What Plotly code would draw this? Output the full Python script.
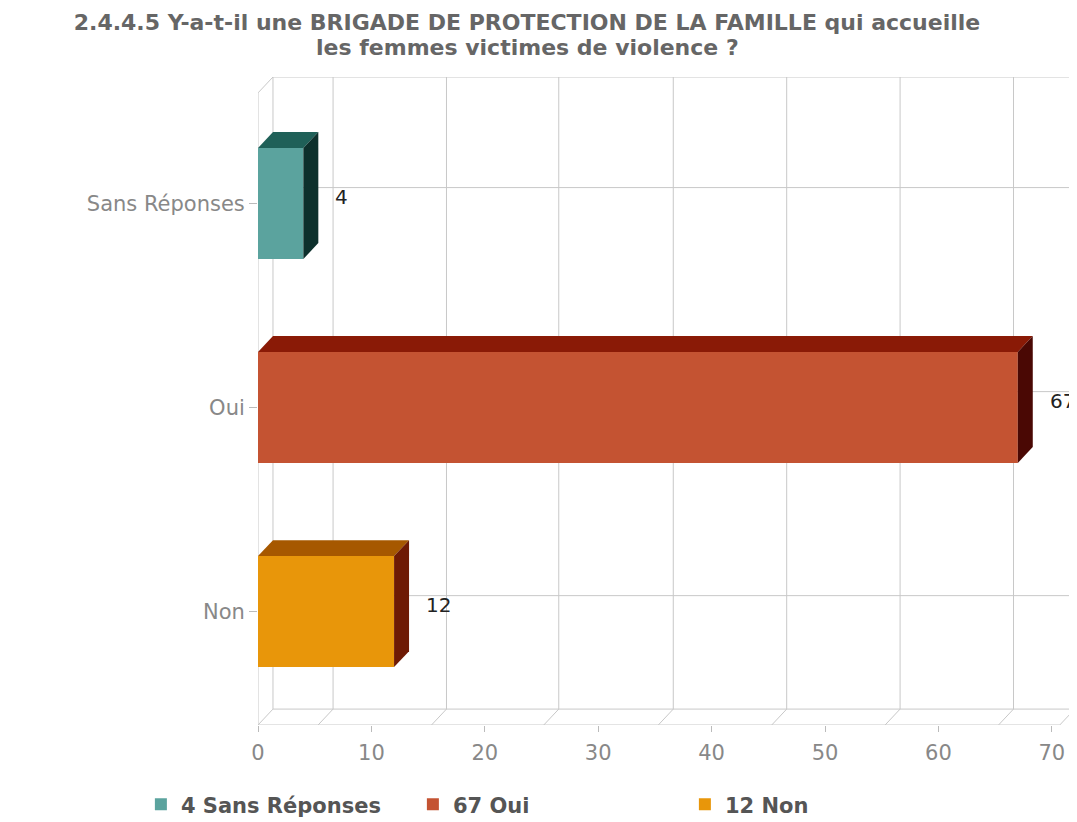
import plotly.graph_objects as go

# data
categories = ["Sans Réponses", "Oui", "Non"]
values = [4, 67, 12]
positions = [2, 1, 0]
legend_names = ["4 Sans Réponses", "67 Oui", "12 Non"]
front_colors = ["#5BA39E", "#C45332", "#E8960A"]
top_colors = ["#1F6058", "#8A1A06", "#A65800"]
side_colors = ["#0D302C", "#4A0804", "#6E1A04"]
x_ticks = [0, 10, 20, 30, 40, 50, 60, 70]
grid_vals = [5.3, 15.3, 25.2, 35.3, 45.3, 55.3, 65.3]

# 3d geometry (axis units)
X_MAX = 72.22
Y_MIN, Y_MAX = -0.556, 2.62
DX, DY = 1.32, 0.078
HALF = 0.272
FLOOR_END = 70.7
GRID = "#c8c8c8"
FONT = 'DejaVu Sans'

fig = go.Figure()

# front faces
for cat, v, p, name, c in zip(categories, values, positions, legend_names, front_colors):
    fig.add_trace(go.Bar(
        x=[v], y=[p], orientation='h', width=2 * HALF, base=0,
        marker=dict(color=c, line=dict(width=0)),
        name=name, hovertemplate=cat + ': %{x}<extra></extra>'
    ))

# top and side faces
for v, p, ct, cs in zip(values, positions, top_colors, side_colors):
    fig.add_trace(go.Scatter(
        x=[0, v, v + DX, DX, 0], y=[p + HALF, p + HALF, p + HALF + DY, p + HALF + DY, p + HALF],
        fill='toself', fillcolor=ct, mode='lines', line=dict(width=0),
        showlegend=False, hoverinfo='skip'
    ))
    fig.add_trace(go.Scatter(
        x=[v, v + DX, v + DX, v, v], y=[p - HALF, p - HALF + DY, p + HALF + DY, p + HALF, p - HALF],
        fill='toself', fillcolor=cs, mode='lines', line=dict(width=0),
        showlegend=False, hoverinfo='skip'
    ))

# walls and grid
shapes = []
def seg(x0, y0, x1, y1):
    shapes.append(dict(type='line', x0=x0, y0=y0, x1=x1, y1=y1, xref='x', yref='y',
                       line=dict(color=GRID, width=1), layer='below'))

seg(DX, Y_MIN + DY, DX, Y_MAX)
seg(DX, Y_MAX, X_MAX, Y_MAX)
seg(0, Y_MIN, 0, Y_MAX - DY)
seg(0, Y_MAX - DY, DX, Y_MAX)
seg(0, Y_MIN, FLOOR_END, Y_MIN)
seg(DX, Y_MIN + DY, X_MAX, Y_MIN + DY)
seg(FLOOR_END, Y_MIN, FLOOR_END + DX, Y_MIN + DY)
seg(0, Y_MIN, DX, Y_MIN + DY)
for g in grid_vals:
    seg(g + DX, Y_MIN + DY, g + DX, Y_MAX)
    seg(g, Y_MIN, g + DX, Y_MIN + DY)
for p in positions:
    seg(DX, p + DY, X_MAX, p + DY)

# value labels
for v, p in zip(values, positions):
    fig.add_annotation(x=v + DX + 1.3, y=p + 0.03, text=str(v), showarrow=False,
                       xanchor='left', yanchor='middle',
                       font=dict(family=FONT, size=20, color='#222'))

# second title line
fig.add_annotation(text="les femmes victimes de violence ?", xref='paper', yref='paper',
                   x=(527 - 258) / 819, y=1 + (69 - 39) / 648, xanchor='center', yanchor='middle',
                   showarrow=False,
                   font=dict(family=FONT, size=22, color='#666', weight='bold'))

fig.update_layout(
    width=1069, height=814,
    margin=dict(l=250, r=0, t=69, b=97, autoexpand=False),
    paper_bgcolor='white', plot_bgcolor='white',
    shapes=shapes,
    barmode='overlay',
    title=dict(
        text="2.4.4.5 Y-a-t-il une BRIGADE DE PROTECTION DE LA FAMILLE qui accueille",
        x=519 / 1069, xref='container', xanchor='center',
        y=1 - 14 / 814, yref='container', yanchor='middle',
        font=dict(family=FONT, size=22, color='#666', weight='bold')
    ),
    xaxis=dict(range=[0, X_MAX], tickvals=x_ticks, showgrid=False, zeroline=False,
               showline=False, ticks='outside', ticklen=6, tickcolor='#bbb',
               ticklabelstandoff=3,
               tickfont=dict(family=FONT, size=21, color='#888'), fixedrange=True),
    yaxis=dict(range=[Y_MIN, Y_MAX], tickvals=positions, ticktext=categories,
               showgrid=False, zeroline=False, showline=False,
               ticks='outside', ticklen=8, tickcolor='#bbb',
               tickfont=dict(family=FONT, size=21, color='#888'), fixedrange=True),
    legend=dict(orientation='h', x=-0.143, xanchor='left', y=-0.123, yanchor='middle',
                entrywidth=227, entrywidthmode='pixels', traceorder='normal',
                font=dict(family=FONT, size=21, color='#555', weight='bold')),
    showlegend=True
)

fig.write_html("out.html")
